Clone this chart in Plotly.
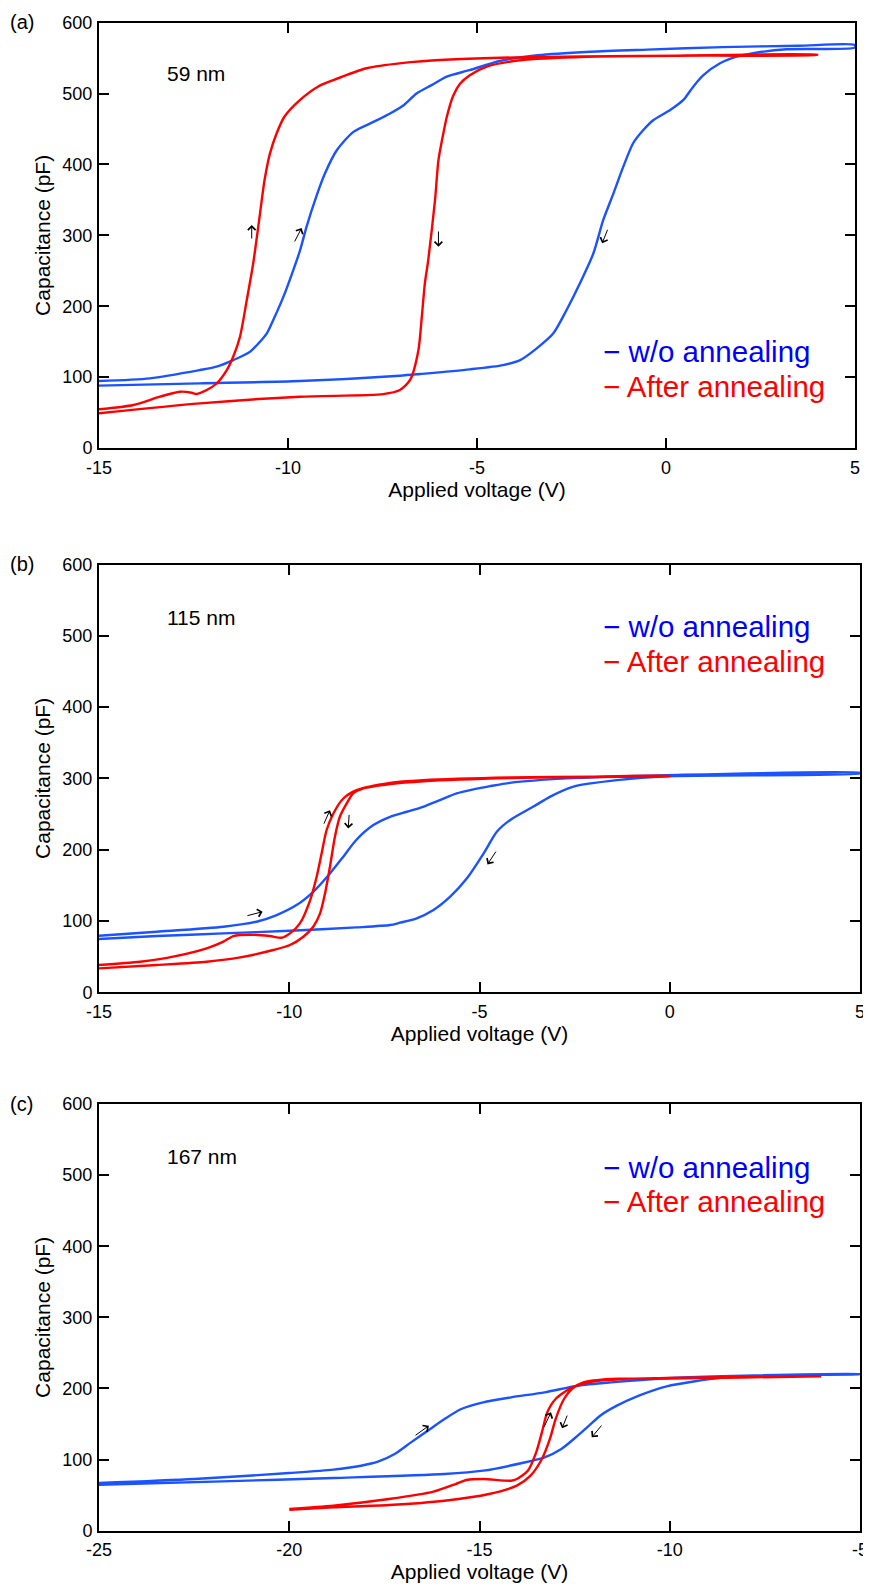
import plotly.graph_objects as go

# ---------------- data ----------------
# Panel (a) 59 nm
a_wo_fwd_v = [-15, -13.65, -12.33, -11.89, -11.45, -11.0, -10.56, -10.39, -10.12, -9.86, -9.68, -9.51, -9.25, -9.02, -8.71, -8.27, -7.74, -7.3, -6.93, -6.6, -6.2, -5.8, -5.2, -4.4, -3.4, -2.0, -0.5, 1.5, 3.5, 5]
a_wo_fwd_c = [94.5, 98.3, 110, 114.7, 124, 136, 161.8, 180.6, 213.5, 251, 279, 312, 355, 387.5, 420, 446, 460, 472, 484, 500, 512, 524, 533, 546, 554, 559, 562, 565.5, 567.5, 568.5]
a_wo_rev_v = [5, 3.19, 2.31, 1.87, 1.43, 0.99, 0.72, 0.46, 0.11, -0.33, -0.6, -0.87, -1.13, -1.39, -1.66, -1.92, -2.28, -2.63, -2.98, -3.42, -3.86, -4.31, -5.19, -6.51, -7.04, -9.68, -12.33, -15]
a_wo_rev_c = [565, 562.5, 557, 552, 542.7, 526, 509.8, 491, 476.8, 462.8, 448.6, 429.9, 396.9, 359.3, 321.7, 274.7, 232, 194.7, 161.8, 140.6, 124, 117, 111, 104.4, 102, 94.5, 91.2, 88]
a_an_fwd_v = [-15, -14.09, -13.39, -12.86, -12.55, -12.42, -12.15, -11.89, -11.62, -11.45, -11.27, -11.09, -10.92, -10.74, -10.62, -10.48, -10.3, -10.1, -9.68, -9.2, -8.8, -7.92, -7.0, -5.71, -4.0, -0.7, 4.0]
a_an_fwd_c = [54.6, 60.7, 72.4, 79.4, 78, 76.2, 81.8, 91, 110, 128.8, 157, 208.8, 260.6, 331, 378, 415, 444, 467, 491, 510, 519, 535.7, 543, 548, 551, 553, 555]
a_an_rev_v = [4.0, 1.0, -2.1, -3.86, -4.74, -5.19, -5.45, -5.63, -5.8, -5.89, -6.02, -6.11, -6.29, -6.38, -6.46, -6.55, -6.77, -7.04, -7.48, -9.68, -12.33, -15]
a_an_rev_c = [554.5, 553.5, 552, 547, 538, 526, 514, 497, 467, 444, 406, 350, 265, 232, 185, 138, 96, 81.8, 76, 72.4, 63, 49]

# Panel (b) 115 nm
b_wo_fwd_v = [-15, -13.48, -11.73, -10.86, -10.33, -9.81, -9.37, -8.93, -8.58, -8.24, -7.79, -7.35, -6.91, -6.48, -6.04, -5.6, -5.16, -4.72, -4.2, -2.71, -0.08, 5]
b_wo_fwd_c = [79.4, 85, 92, 99, 108.3, 122.3, 141, 166.7, 190.2, 213.6, 234.5, 246.2, 253.2, 260.2, 269.5, 278.9, 284.5, 289.1, 293.8, 300, 304.5, 307.8]
b_wo_rev_v = [5, -0.08, -1.39, -2.53, -3.14, -3.58, -4.19, -4.54, -4.89, -5.33, -5.77, -6.21, -6.65, -7.09, -7.35, -8.24, -9.98, -11.73, -13.48, -15]
b_wo_rev_c = [307, 303, 297.5, 288.5, 274.5, 260.5, 241.8, 225.5, 195, 160, 134.2, 115.5, 103.8, 97.6, 94.3, 91, 86.4, 82.6, 78.9, 74.7]
b_an_fwd_v = [-15, -13.92, -13.05, -12.17, -11.73, -11.47, -11.03, -10.51, -10.2, -9.98, -9.72, -9.45, -9.28, -9.15, -9.02, -8.84, -8.58, -8.23, -7.35, -6.48, -4.2, -2.0, 0]
b_an_fwd_c = [38.3, 42.9, 50, 61.6, 71, 78.9, 80.8, 78.9, 76.5, 82.6, 96.6, 129.4, 162, 194.6, 227.3, 250.8, 271.8, 283.6, 293.8, 297.5, 301.3, 302.5, 303.5]
b_an_rev_v = [0, -2.0, -4.2, -6.48, -7.35, -8.05, -8.32, -8.49, -8.67, -8.8, -8.93, -9.06, -9.19, -9.37, -9.63, -9.98, -10.42, -11.29, -12.17, -13.48, -15]
b_an_rev_c = [303.2, 302, 300.5, 296, 292, 285.9, 278.9, 264.9, 246.2, 218.1, 176.1, 138.7, 110.7, 92, 78, 66.3, 59.3, 49, 42.9, 38.3, 33.6]

# Panel (c) 167 nm
c_wo_fwd_v = [-25, -22.49, -20.0, -18.84, -18.11, -17.67, -17.23, -16.8, -16.36, -15.92, -15.48, -14.9, -14.17, -13.29, -12.42, -11.54, -10.08, -8.62, -5]
c_wo_fwd_c = [67, 72.7, 81.1, 85.8, 91.4, 97, 107.8, 124.2, 140.6, 157, 171.1, 180.5, 187.5, 194.6, 203.9, 208.6, 214.3, 217.1, 220.3]
c_wo_rev_v = [-5, -7.16, -8.62, -10.08, -10.81, -11.39, -11.83, -12.12, -12.42, -12.85, -13.29, -13.88, -14.9, -15.92, -18.84, -21.76, -25]
c_wo_rev_c = [220, 219, 215.2, 203, 189.9, 175.8, 161.7, 147.7, 133.6, 114.9, 103.1, 95.2, 84.4, 79.7, 74.1, 69.4, 64.7]
c_an_fwd_v = [-20, -18.84, -17.38, -16.21, -15.63, -15.34, -14.9, -14.17, -14.02, -13.73, -13.51, -13.36, -13.22, -13.0, -12.56, -11.83, -10.08, -6.02]
c_an_fwd_c = [30.5, 35.2, 44.5, 54.9, 65.6, 71.3, 72.7, 70.3, 72.7, 84.4, 110.2, 138.3, 166.4, 185.2, 201.6, 211, 214.7, 217]
c_an_rev_v = [-6.02, -10.08, -11.54, -12.27, -12.56, -12.78, -13.0, -13.15, -13.36, -13.66, -14.02, -14.75, -15.92, -17.38, -18.84, -20]
c_an_rev_c = [217, 214, 213.3, 208.6, 200, 185.2, 157, 129, 100.8, 77.4, 63.3, 51.6, 42.2, 36.1, 32.8, 29.5]

# tick values / labels
y_tickvals = [0, 100, 200, 300, 400, 500, 600]
y_ticktext = ["0", "100", "200", "300", "400", "500", "600"]
ab_x_tickvals = [-15, -10, -5, 0, 5]
ab_x_ticktext = ["-15", "-10", "-5", "0", "5"]
c_x_tickvals = [-25, -20, -15, -10, -5]
c_x_ticktext = ["-25", "-20", "-15", "-10", "-5"]

panel_labels = ["(a)", "(b)", "(c)"]
thickness_labels = ["59 nm", "115 nm", "167 nm"]
series_names = ["w/o annealing", "After annealing"]

# ---------------- styling ----------------
PAGE_MARGIN = 8          # default <body> margin of the page
W, H = 871 - PAGE_MARGIN, 1590 - PAGE_MARGIN
BLUE_LINE = "#1a53ff"
RED_LINE = "#ff0000"
BLUE_TXT = "#0000ff"
RED_TXT = "#ff0000"
FONT = "Liberation Sans, Arial, sans-serif"


def xp(px):
    return (px - PAGE_MARGIN) / W


def yp(py):
    return 1 - (py - PAGE_MARGIN) / H


panels = [
    dict(xr=[-15, 5], xd=[99, 855], yd=[448, 22.7], tv=ab_x_tickvals, tt=ab_x_ticktext,
         wo=(a_wo_fwd_v + a_wo_rev_v, a_wo_fwd_c + a_wo_rev_c),
         an=(a_an_fwd_v + a_an_rev_v, a_an_fwd_c + a_an_rev_c),
         label_y=22, thick_y=74, leg_y=(352, 386)),
    dict(xr=[-15, 5], xd=[99, 860], yd=[992.3, 564.5], tv=ab_x_tickvals, tt=ab_x_ticktext,
         wo=(b_wo_fwd_v + b_wo_rev_v, b_wo_fwd_c + b_wo_rev_c),
         an=(b_an_fwd_v + b_an_rev_v, b_an_fwd_c + b_an_rev_c),
         label_y=564, thick_y=617, leg_y=(627, 661)),
    dict(xr=[-25, -5], xd=[99, 860], yd=[1530.7, 1104], tv=c_x_tickvals, tt=c_x_ticktext,
         wo=(c_wo_fwd_v + c_wo_rev_v, c_wo_fwd_c + c_wo_rev_c),
         an=(c_an_fwd_v + c_an_rev_v, c_an_fwd_c + c_an_rev_c),
         label_y=1104, thick_y=1156, leg_y=(1167, 1201)),
]

# arrows: (head V, head C, tail dx px, tail dy px)
arrows = [
    [(-10.96, 314.6, 0, 15), (-9.64, 310.4, -7.7, 15), (-6.02, 284, 0, -16.7), (-1.69, 288.8, 6, -15)],
    [(-8.93, 255.5, -6.7, 15), (-8.45, 229.9, 1, -15), (-10.70, 113, -16.7, 4.3), (-4.79, 179.4, 9.4, -14.3)],
    [(-16.33, 147.7, -14.9, 10.7), (-13.12, 166.4, -7.6, 15.9), (-12.83, 144, 5.7, -14.2), (-12.05, 131.3, 11, -13.3)],
]

fig = go.Figure()
annotations = []
layout = dict(width=W, height=H, margin=dict(l=0, r=0, t=0, b=0),
              paper_bgcolor="white", plot_bgcolor="white", showlegend=False,
              font=dict(family=FONT, color="black"))

for i, p in enumerate(panels):
    sfx = "" if i == 0 else str(i + 1)
    xa, ya = "x" + sfx, "y" + sfx
    fig.add_trace(go.Scatter(x=p["wo"][0], y=p["wo"][1], mode="lines", name=series_names[0],
                             line=dict(color=BLUE_LINE, width=2.4, shape="spline", smoothing=0.7),
                             xaxis=xa, yaxis=ya))
    fig.add_trace(go.Scatter(x=p["an"][0], y=p["an"][1], mode="lines", name=series_names[1],
                             line=dict(color=RED_LINE, width=2.4, shape="spline", smoothing=0.7),
                             xaxis=xa, yaxis=ya))
    common = dict(showline=True, linecolor="black", linewidth=2, mirror="allticks",
                  ticks="inside", ticklen=10, tickwidth=2, tickcolor="black",
                  showgrid=False, zeroline=False, automargin=False,
                  tickfont=dict(family=FONT, size=18, color="black"))
    layout["xaxis" + sfx] = dict(common, domain=[xp(p["xd"][0]), xp(p["xd"][1])], anchor=ya,
                                  range=p["xr"], tickmode="array", tickvals=p["tv"], ticktext=p["tt"],
                                  ticklabelstandoff=2,
                                  title=dict(text="Applied voltage (V)", font=dict(family=FONT, size=21), standoff=2))
    layout["yaxis" + sfx] = dict(common, domain=[yp(p["yd"][0]), yp(p["yd"][1])], anchor=xa,
                                  range=[0, 600], tickmode="array", tickvals=y_tickvals, ticktext=y_ticktext,
                                  ticklabelstandoff=1,
                                  title=dict(text="Capacitance (pF)", font=dict(family=FONT, size=21), standoff=6))
    annotations.append(dict(text=panel_labels[i], x=xp(8), y=yp(p["label_y"]), xref="paper", yref="paper",
                            xanchor="left", yanchor="middle", showarrow=False, font=dict(family=FONT, size=20)))
    annotations.append(dict(text=thickness_labels[i], x=xp(165), y=yp(p["thick_y"]), xref="paper", yref="paper",
                            xanchor="left", yanchor="middle", showarrow=False, font=dict(family=FONT, size=21)))
    annotations.append(dict(text="\u2212 " + series_names[0], x=xp(601), y=yp(p["leg_y"][0]), xref="paper", yref="paper",
                            xanchor="left", yanchor="middle", showarrow=False,
                            font=dict(family=FONT, size=29.5, color=BLUE_TXT)))
    annotations.append(dict(text="\u2212 " + series_names[1], x=xp(601), y=yp(p["leg_y"][1]), xref="paper", yref="paper",
                            xanchor="left", yanchor="middle", showarrow=False,
                            font=dict(family=FONT, size=29.5, color=RED_TXT)))
    for (hx, hy, dx, dy) in arrows[i]:
        annotations.append(dict(x=hx, y=hy, xref=xa, yref=ya, ax=dx, ay=dy, text="", showarrow=True,
                                arrowhead=4, arrowsize=1.5, arrowwidth=1, arrowcolor="black"))

layout["annotations"] = annotations
fig.update_layout(**layout)
fig.write_html("out.html")
